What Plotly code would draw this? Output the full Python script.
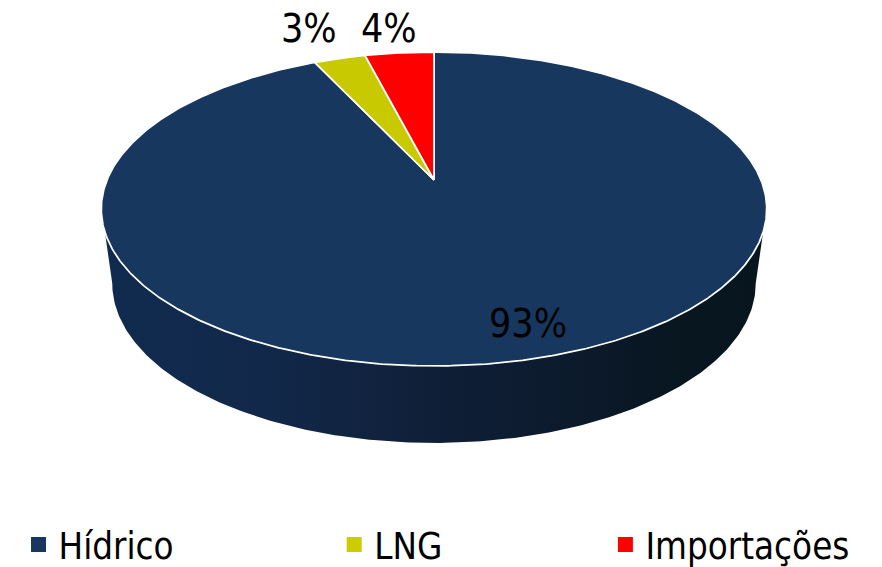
import numpy as np
import plotly.graph_objects as go

# Data
categories = ["Hídrico", "LNG", "Importações"]
values = [93, 3, 4]
colors = ["#17375E", "#C9C900", "#FF0000"]
legend_colors = ["#17375E", "#CCCC00", "#FF0000"]

# Perspective geometry of the disc (pixels)
CX, CY = 434.0, 180.0
A, B, K = 327.0, 151.6, 0.1847
SCALE_LOW_X, SCALE_LOW_Y, CY_LOW = 0.967, 1.016, 254.0
FONT = "DejaVu Sans Condensed, Tahoma, DejaVu Sans"


def project(theta_deg, sx=1.0, sy=1.0, cy=CY):
    t = np.radians(theta_deg)
    u, v = np.sin(t), -np.cos(t)
    w = 1 - K * v
    return CX + sx * A * u / w, cy + sy * B * v / w


fig = go.Figure()

# Side wall: lower rim followed by the front of the upper rim
xb, yb = project(np.linspace(100.6, 259.4, 240), SCALE_LOW_X, SCALE_LOW_Y, CY_LOW)
xt, yt = project(np.linspace(251.2, 108.8, 240))
fig.add_trace(go.Scatter(
    x=np.r_[xb, xt], y=np.r_[yb, yt], mode="lines", fill="toself",
    line=dict(width=0), showlegend=False, hoverinfo="skip",
    fillcolor="#10294D",
    fillgradient=dict(type="horizontal", colorscale=[
        [0, "#102B4F"], [0.25, "#12284A"], [0.5, "#0F1F37"],
        [0.7, "#0C1A2D"], [0.88, "#081620"], [1, "#07151F"]]),
))

# Top slices, clockwise from twelve o'clock
total = sum(values)
start = 0.0
for cat, val, col in zip(categories, values, colors):
    end = start + 360.0 * val / total
    x, y = project(np.linspace(start, end, max(int(val * 8), 12)))
    fig.add_trace(go.Scatter(
        x=np.r_[CX, x, CX], y=np.r_[CY, y, CY], mode="lines", fill="toself",
        fillcolor=col, line=dict(color="#FFFFFF", width=1.75),
        showlegend=False, name=cat, hoverinfo="name",
    ))
    start = end

# Legend entries, one legend each so that they can be spaced as in the picture
legend_x = [0.021, 0.3789, 0.6864]
legends = {}
for i, (cat, col, lx) in enumerate(zip(categories, legend_colors, legend_x)):
    key = "legend" if i == 0 else f"legend{i + 1}"
    fig.add_trace(go.Scatter(
        x=[None], y=[None], mode="markers", name=cat, legend=key,
        marker=dict(symbol="square", size=15, color=col),
    ))
    legends[key] = dict(
        x=lx, y=0.039, xanchor="left", yanchor="middle", itemsizing="trace",
        bgcolor="rgba(0,0,0,0)", font=dict(family=FONT, size=36.4, color="#000000"),
        tracegroupgap=0,
    )

# Percentage labels
label_pos = [(528, 323), (309, 28), (389, 28)]
annotations = [
    dict(x=px, y=py, xref="x", yref="y", text=f"{v}%", showarrow=False,
         font=dict(family=FONT, size=39, color="#000000"))
    for v, (px, py) in zip(values, label_pos)
]

fig.update_layout(
    width=882, height=567, margin=dict(l=0, r=0, t=0, b=0, autoexpand=False),
    paper_bgcolor="#FFFFFF", plot_bgcolor="#FFFFFF",
    xaxis=dict(range=[0, 882], visible=False, fixedrange=True),
    yaxis=dict(range=[567, 0], visible=False, fixedrange=True),
    annotations=annotations,
    **legends,
)
fig.write_html("out.html", config={"displayModeBar": False},
               post_script="document.body.style.margin='0';")
